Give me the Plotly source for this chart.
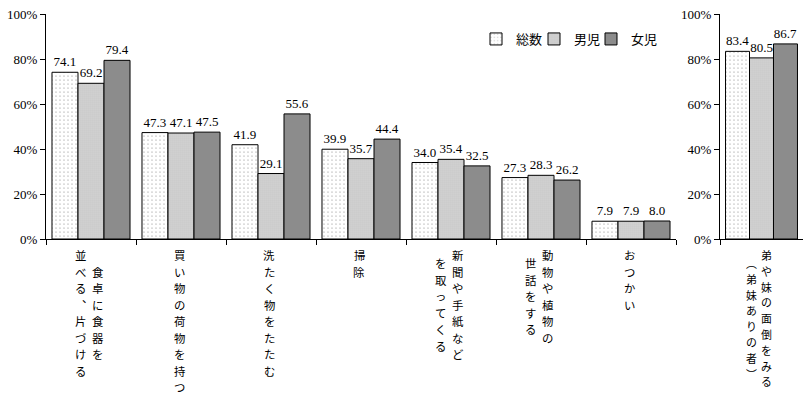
import plotly.graph_objects as go

# ---- data ----
categories = ["食卓に食器を並べる、片づける", "買い物の荷物を持つ", "洗たく物をたたむ", "掃除",
              "新聞や手紙などを取ってくる", "動物や植物の世話をする", "おつかい"]
# label columns (right column first, as in vertical writing)
label_columns = [["食卓に食器を", "並べる︑片づける"],
                 ["買い物の荷物を持つ"],
                 ["洗たく物をたたむ"],
                 ["掃除"],
                 ["新聞や手紙など", "を取ってくる"],
                 ["動物や植物の", "世話をする"],
                 ["おつかい"]]
right_category = ["弟や妹の面倒をみる（弟妹ありの者）"]
right_label_columns = [["弟や妹の面倒をみる", "︵弟妹ありの者︶"]]

series_names = ["総数", "男児", "女児"]
total_vals = [74.1, 47.3, 41.9, 39.9, 34.0, 27.3, 7.9]
boys_vals = [69.2, 47.1, 29.1, 35.7, 35.4, 28.3, 7.9]
girls_vals = [79.4, 47.5, 55.6, 44.4, 32.5, 26.2, 8.0]
right_total = [83.4]
right_boys = [80.5]
right_girls = [86.7]

y_ticks = [0, 20, 40, 60, 80, 100]
y_tick_text = ["0%", "20%", "40%", "60%", "80%", "100%"]

# ---- styling ----
W, H = 812, 397
PLOT_TOP, PLOT_BOTTOM = 14, 239
LEFT_X0, LEFT_X1 = 46, 676
RIGHT_X0, RIGHT_X1 = 720, 803
LEGEND_X = [476, 534, 591]
LEGEND_Y = 39

patterns = [
    dict(shape=".", fgcolor="black", bgcolor="white", size=4, solidity=0.07),
    dict(shape=".", fgcolor="black", bgcolor="white", size=2, solidity=0.4),
    dict(shape=".", fgcolor="black", bgcolor="#b4b4b4", size=2, solidity=0.5),
]

num_font = dict(family="Liberation Serif", size=13, color="black")
jp_font = dict(family="Noto Sans CJK JP", size=13, color="black")

legend_ids = ["legend", "legend2", "legend3"]

fig = go.Figure()
left_data = [total_vals, boys_vals, girls_vals]
right_data = [right_total, right_boys, right_girls]
for i, name in enumerate(series_names):
    common = dict(
        marker=dict(pattern=patterns[i], line=dict(color="black", width=1)),
        texttemplate="%{y:.1f}", textposition="outside", textfont=num_font,
        constraintext="none", cliponaxis=False, legendgroup=name,
        hoverinfo="skip",
    )
    fig.add_bar(x=categories, y=left_data[i], name=name, xaxis="x", yaxis="y",
                showlegend=True, legend=legend_ids[i], **common)
    fig.add_bar(x=right_category, y=right_data[i], name=name, xaxis="x2", yaxis="y2",
                showlegend=False, **common)

axis_common = dict(showline=True, linecolor="black", linewidth=1, ticks="outside",
                   tickcolor="black", ticklen=5, showgrid=False, zeroline=False)
yaxis_common = dict(range=[0, 100], tickvals=y_ticks, ticktext=y_tick_text,
                    tickfont=num_font, domain=[0, 1], ticklabeloverflow="allow",
                    **axis_common)
xaxis_common = dict(tickson="boundaries", showticklabels=False, **axis_common)

legend_layout = {}
for i, lid in enumerate(legend_ids):
    legend_layout[lid] = dict(
        orientation="h", x=LEGEND_X[i] / W, xanchor="left",
        y=(PLOT_BOTTOM - LEGEND_Y) / (PLOT_BOTTOM - PLOT_TOP), yanchor="middle",
        font=jp_font, bgcolor="rgba(0,0,0,0)", itemwidth=30)

fig.update_layout(
    width=W, height=H,
    margin=dict(l=0, r=0, t=PLOT_TOP, b=H - PLOT_BOTTOM, autoexpand=False),
    paper_bgcolor="white", plot_bgcolor="white",
    barmode="group", bargap=0.133, bargroupgap=0,
    xaxis=dict(domain=[LEFT_X0 / W, LEFT_X1 / W], anchor="y", **xaxis_common),
    yaxis=dict(anchor="x", **yaxis_common),
    xaxis2=dict(domain=[RIGHT_X0 / W, RIGHT_X1 / W], anchor="y2", **xaxis_common),
    yaxis2=dict(anchor="x2", **yaxis_common),
    showlegend=True,
    **legend_layout,
)

# ---- vertical category labels (one annotation per character) ----
FIRST_CENTER_PX = 255


def add_labels(cats, cols_list, xref, pitch, size, col_gap, xshift0):
    font = dict(family="Noto Sans CJK JP", size=size, color="black")
    for cat, cols in zip(cats, cols_list):
        n = len(cols)
        maxlen = max(len(c) for c in cols)
        for j, col in enumerate(cols):
            # first column is the rightmost
            shift = ((n - 1) / 2 - j) * col_gap + xshift0
            start = FIRST_CENTER_PX + (maxlen - len(col)) / 2 * pitch
            for k, ch in enumerate(col):
                cy = start + k * pitch
                fig.add_annotation(
                    x=cat, xref=xref, xshift=shift,
                    y=(PLOT_BOTTOM - cy) / (PLOT_BOTTOM - PLOT_TOP), yref="paper",
                    yanchor="middle", xanchor="center",
                    text=ch, showarrow=False, font=font, borderpad=0,
                )


add_labels(categories, label_columns, "x", pitch=16.5, size=11.4, col_gap=17, xshift0=-2)
add_labels(right_category, right_label_columns, "x2", pitch=15.8, size=10.9, col_gap=15, xshift0=-3)

fig.write_html("out.html", post_script="document.body.style.margin='0';",
               config={"displayModeBar": False})
